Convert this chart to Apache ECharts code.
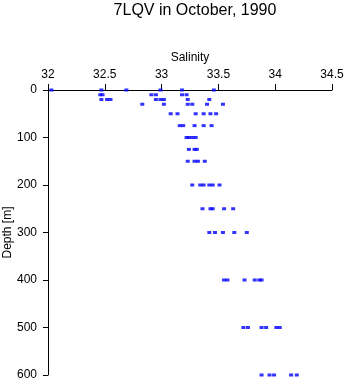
<!DOCTYPE html>
<html>
<head>
<meta charset="utf-8">
<script src="https://cdn.jsdelivr.net/npm/echarts@6/dist/echarts.min.js"></script>
<style>html,body{margin:0;padding:0;background:#fff}#c{width:346px;height:384px}</style>
</head>
<body>
<div id="c"></div>
<script>
const titleText = "7LQV in October, 1990";
const xTicks = [32, 32.5, 33, 33.5, 34, 34.5];
const yTicks = [0, 100, 200, 300, 400, 500, 600];
const depth = [
  0,0,0,0,0,0,
  10,10,10,10,10,10,
  20,20,20,20,20,20,20,20,
  30,30,30,30,30,30,
  50,50,50,50,50,50,
  75,75,75,75,75,
  100,100,100,100,
  125,125,125,
  150,150,150,150,
  200,200,200,200,200,200,
  250,250,250,250,250,
  300,300,300,300,300,
  400,400,400,400,400,400,
  500,500,500,500,500,500,
  600,600,600,600,600
];
const salinity = [
  32.03,32.47,32.69,32.99,33.18,33.46,
  32.46,32.48,32.91,32.95,33.18,33.22,
  32.47,32.52,32.55,32.95,32.99,33.02,33.23,33.42,
  32.83,33.02,33.23,33.27,33.40,33.54,
  33.08,33.14,33.30,33.37,33.43,33.48,
  33.16,33.19,33.29,33.37,33.44,
  33.22,33.24,33.27,33.30,
  33.24,33.29,33.31,
  33.23,33.29,33.32,33.38,
  33.27,33.34,33.37,33.42,33.45,33.51,
  33.36,33.43,33.45,33.55,33.63,
  33.42,33.47,33.54,33.64,33.75,
  33.55,33.58,33.73,33.82,33.86,33.88,
  33.72,33.76,33.88,33.92,34.01,34.04,
  33.88,33.95,33.99,34.14,34.19
];
const points = salinity.map((s, i) => [s, depth[i]]);
const font = "Liberation Sans, Arial, sans-serif";
const chart = echarts.init(document.getElementById('c'), null, {renderer: 'canvas'});
chart.setOption({
  animation: false,
  backgroundColor: '#ffffff',
  title: {
    text: titleText, left: 190, top: -2, textAlign: 'center',
    textStyle: {fontFamily: font, fontSize: 16, fontWeight: 'normal', color: '#000'}
  },
  grid: {left: 48, right: 14, top: 90, bottom: 9, containLabel: false, outerBoundsMode: 'none'},
  xAxis: {
    type: 'value', position: 'top', min: xTicks[0], max: xTicks[xTicks.length - 1], interval: 0.5,
    name: 'Salinity', nameLocation: 'middle', nameGap: 26, nameMoveOverlap: false,
    nameTextStyle: {fontFamily: font, fontSize: 12, color: '#000'},
    axisLine: {show: true, onZero: false, lineStyle: {color: '#000', width: 1}},
    axisTick: {show: true, inside: false, length: 6, lineStyle: {color: '#000'}},
    axisLabel: {fontFamily: font, fontSize: 12, color: '#000', margin: 9,
      formatter: v => String(v)},
    splitLine: {show: false}
  },
  yAxis: {
    type: 'value', inverse: true, min: yTicks[0], max: yTicks[yTicks.length - 1], interval: 100,
    name: 'Depth [m]', nameLocation: 'middle', nameGap: 34, nameRotate: 90, nameMoveOverlap: false,
    nameTextStyle: {fontFamily: font, fontSize: 12, color: '#000'},
    axisLine: {show: true, onZero: false, lineStyle: {color: '#000', width: 1}},
    axisTick: {show: true, inside: false, length: 5, lineStyle: {color: '#000'}},
    axisLabel: {fontFamily: font, fontSize: 12, color: '#000', margin: 11},
    splitLine: {show: false}
  },
  series: [{
    type: 'scatter', data: points, symbol: 'rect', symbolSize: [4, 3],
    itemStyle: {color: '#0000ff'}
  }]
});
</script>
</body>
</html>
